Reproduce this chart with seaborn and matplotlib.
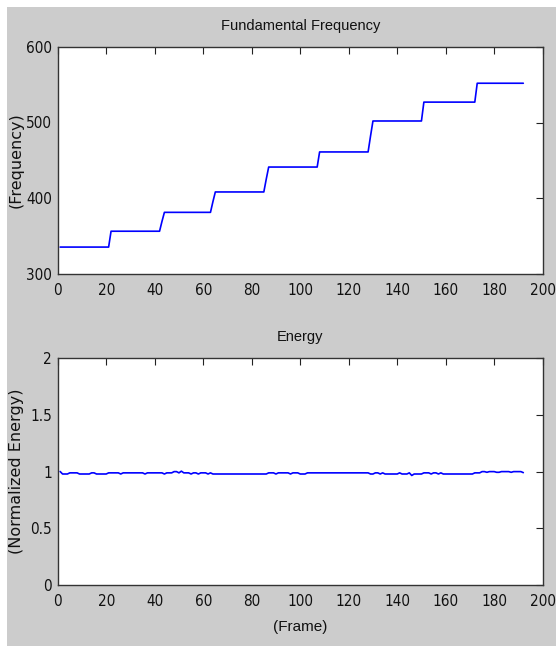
import numpy as np
import pandas as pd
import matplotlib
matplotlib.use("Agg")
import matplotlib.pyplot as plt
from matplotlib.patches import Rectangle
from matplotlib import font_manager as fm
import seaborn as sns

# ---- data ----
frames = np.arange(1, 193)

# fundamental frequency: level per frame, as runs (value, number of frames)
f0_levels = [335, 356, 369, 381, 395, 408, 425, 441, 461, 482, 502, 527, 552]
f0_runs   = [21,  21,  1,   20,  1,   21,  1,   21,  21,  1,   21,  22,  20]

# normalized energy: runs (value, number of frames)
en_levels = [1.0, 0.978, 0.988, 0.978, 0.988, 0.978, 0.988, 0.978, 0.988, 0.978,
             0.988, 0.978, 0.988, 0.999, 0.988, 1.003, 0.988, 0.978, 0.988, 0.978,
             0.988, 0.978, 0.988, 0.978, 0.988, 0.978, 0.988, 0.978, 0.988, 0.978,
             0.988, 0.978, 0.988, 0.978, 0.988, 0.978, 0.988, 0.978, 0.988, 0.965,
             0.978, 0.988, 0.978, 0.988, 0.978, 0.988, 0.978, 0.988, 0.999, 0.993,
             0.999, 0.993, 0.999, 0.993, 0.999, 0.990]
en_runs   = [1, 3, 4, 5, 2, 5, 5, 1, 9, 1,
             7, 1, 3, 2, 1, 1, 3, 1, 2, 1,
             3, 1, 1, 23, 3, 1, 5, 1, 3, 3,
             26, 2, 2, 1, 1, 6, 1, 3, 1, 1,
             4, 3, 1, 2, 1, 1, 13, 3, 2, 1,
             3, 2, 4, 1, 4, 1]

f0 = np.repeat(f0_levels, f0_runs)
energy = np.repeat(en_levels, en_runs)

x_ticks = [0, 20, 40, 60, 80, 100, 120, 140, 160, 180, 200]
f0_ticks = [300, 400, 500, 600]
en_ticks = [0, 0.5, 1, 1.5, 2]
en_ticklabels = ["0", "0.5", "1", "1.5", "2"]

df_f0 = pd.DataFrame({"frame": frames, "f0": f0})
df_en = pd.DataFrame({"frame": frames, "energy": energy})

# ---- fonts: prefer a condensed face if one is installed ----
names = {f.name for f in fm.fontManager.ttflist}
cond_dejavu = any(f.name == "DejaVu Sans" and str(f.stretch) in ("condensed", "semi-condensed")
                  for f in fm.fontManager.ttflist)
if "Liberation Sans Narrow" in names:
    tick_font = dict(family=["Liberation Sans Narrow", "DejaVu Sans"], stretch="normal")
    tick_size = 12
elif cond_dejavu:
    tick_font = dict(family=["DejaVu Sans"], stretch="condensed")
    tick_size = 11
else:
    tick_font = dict(family=["Liberation Sans", "DejaVu Sans"], stretch="normal")
    tick_size = 10.5

# ---- style ----
sns.set_theme(style="white")
plt.rcParams["font.family"] = ["Liberation Sans", "DejaVu Sans"]
plt.rcParams.update({
    "xtick.direction": "in", "ytick.direction": "in",
    "xtick.major.size": 4.8, "ytick.major.size": 4.8,
    "xtick.major.width": 0.8, "ytick.major.width": 0.8,
    "xtick.top": True, "ytick.right": True,
    "xtick.color": "#222222", "ytick.color": "#222222",
    "axes.edgecolor": "#333333", "axes.linewidth": 1.0,
})

W, H = 556, 646
fig = plt.figure(figsize=(W / 100, H / 100), dpi=100, facecolor="white")
fig.patches.append(Rectangle((7 / W, 0), 1, (H - 7) / H, transform=fig.transFigure,
                             facecolor="#cccccc", edgecolor="none", zorder=-10))

left = 57.7 / W
width = 485 / W
ax1 = fig.add_axes([left, 1 - 273.5 / H, width, 226.5 / H])
ax2 = fig.add_axes([left, 1 - 585 / H, width, 227 / H])

title_font = dict(family=["Liberation Sans", "DejaVu Sans"], fontsize=10.5, color="#111111")
for ax in (ax1, ax2):
    ax.set_facecolor("white")
    ax.tick_params(which="both", top=True, right=True)
    ax.tick_params(axis="x", pad=6.5)
    ax.tick_params(axis="y", pad=4)

sns.lineplot(data=df_f0, x="frame", y="f0", ax=ax1, color="#0000ff", linewidth=1.2)
ax1.set_xlim(0, 200)
ax1.set_ylim(300, 600)
ax1.set_xticks(x_ticks)
ax1.set_yticks(f0_ticks)
ax1.set_title("Fundamental Frequency", pad=12, **title_font)
ax1.set_xlabel("")
ax1.set_ylabel("(Frequency)", fontsize=11.5, color="#111111", family=["DejaVu Sans"])

sns.lineplot(data=df_en, x="frame", y="energy", ax=ax2, color="#0000ff", linewidth=1.2)
ax2.set_xlim(0, 200)
ax2.set_ylim(0, 2)
ax2.set_xticks(x_ticks)
ax2.set_yticks(en_ticks)
ax2.set_yticklabels(en_ticklabels)
ax2.set_title("Energy", pad=12, **title_font)
ax2.set_xlabel("(Frame)", fontsize=11, color="#111111", labelpad=8,
               family=["Liberation Sans", "DejaVu Sans"])
ax2.set_ylabel("(Normalized Energy)", fontsize=11.5, color="#111111", family=["DejaVu Sans"])

for ax in (ax1, ax2):
    ax.yaxis.set_label_coords(-0.07, 0.5)
    for lab in ax.get_xticklabels() + ax.get_yticklabels():
        lab.set_fontsize(tick_size)
        lab.set_family(tick_font["family"])
        lab.set_stretch(tick_font["stretch"])
        lab.set_color("#111111")

fig.savefig("out.png", dpi=100, facecolor=fig.get_facecolor())
